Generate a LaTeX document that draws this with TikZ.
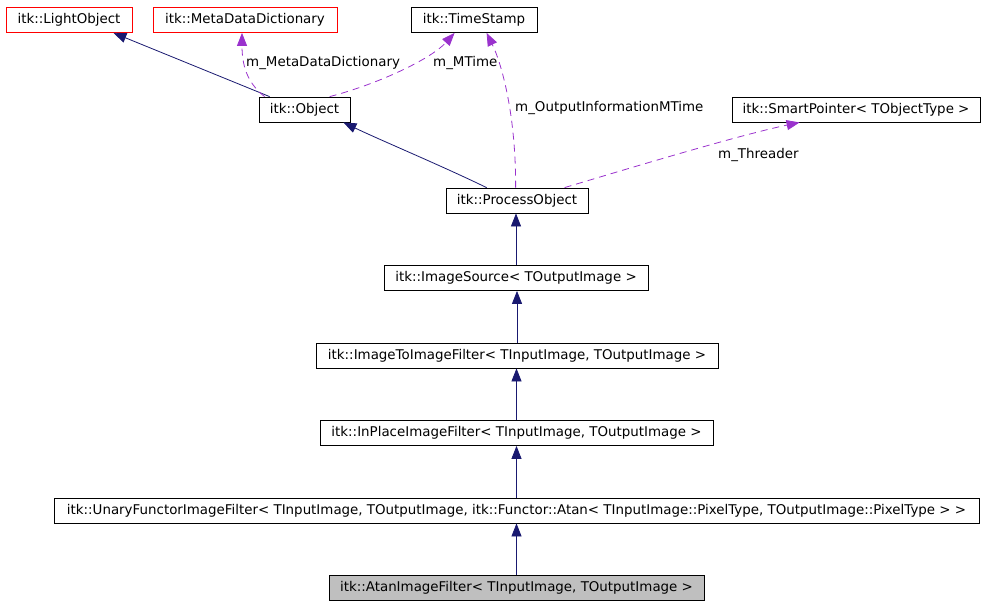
\documentclass[tikz,border=0pt]{standalone}
\usepackage{fontspec}
\setmainfont{DejaVu Sans}
\usetikzlibrary{arrows.meta}
\definecolor{inhblue}{HTML}{191970}
\definecolor{usepurple}{HTML}{9A32CD}
\begin{document}
\begin{tikzpicture}[
    x=1pt, y=-1pt,
    cls/.style={
        draw=black,
        line width=0.8pt,
        minimum height=25pt,
        inner sep=0pt,
        font=\fontsize{13.4}{16}\selectfont
    },
    extcls/.style={cls, draw=red},
    curcls/.style={cls, fill=black!25},
    inh/.style={draw=inhblue, line width=0.8pt, -{Triangle[length=13pt,width=10pt]}},
    usage/.style={draw=usepurple, line width=0.8pt, dash pattern=on 7pt off 5pt,
        -{Triangle[length=13pt,width=10pt]}},
    lbl/.style={anchor=west, inner sep=0pt, font=\fontsize{13.4}{16}\selectfont}
]
    \useasboundingbox (0,0) rectangle (987,605);

    % top row
    \node[extcls, minimum width=126pt] (light) at (69,20) {itk::LightObject};
    \node[extcls, minimum width=184pt] (meta) at (245,20) {itk::MetaDataDictionary};
    \node[cls, minimum width=126pt] (stamp) at (474,20) {itk::TimeStamp};

    \node[cls, minimum width=91pt] (obj) at (304.5,109.5) {itk::Object};
    \node[cls, minimum width=248pt] (smart) at (856,109.5) {itk::SmartPointer< TObjectType >};

    % hierarchy
    \node[cls, minimum width=142pt] (proc) at (517,200.5) {itk::ProcessObject};
    \node[cls, minimum width=264pt] (src) at (516,278) {itk::ImageSource< TOutputImage >};
    \node[cls, minimum width=402pt] (itoi) at (517,355.5)
        {itk::ImageToImageFilter< TInputImage, TOutputImage >};
    \node[cls, minimum width=393pt] (inplace) at (516.5,433)
        {itk::InPlaceImageFilter< TInputImage, TOutputImage >};
    \node[cls, minimum width=925pt] (unary) at (516.5,510.5)
        {itk::UnaryFunctorImageFilter< TInputImage, TOutputImage, itk::Functor::Atan< TInputImage::PixelType, TOutputImage::PixelType > >};
    \node[curcls, minimum width=375pt] (atan) at (516.5,587.5)
        {itk::AtanImageFilter< TInputImage, TOutputImage >};

    % inheritance
    \draw[inh] ([xshift=11pt]obj.north west) -- ([xshift=-19pt]light.south east);
    \draw[inh] ([xshift=41pt]proc.north west)
        .. controls (440,165) and (380,140) .. ([xshift=-7pt]obj.south east);
    \foreach \a/\b in {src/proc, itoi/src, inplace/itoi, unary/inplace, atan/unary}
        \draw[inh] (\a.north) -- (\a.north |- \b.south);

    % members
    \draw[usage] ([xshift=6pt]obj.north west)
        .. controls (250,85) and (242,70) .. ([xshift=-3pt]meta.south);
    \draw[usage] ([xshift=71pt]obj.north west)
        .. controls (375,85) and (430,60) .. ([xshift=44pt]stamp.south west);
    \draw[usage] ([xshift=70pt]proc.north west)
        .. controls (516,110) and (500,60) .. ([xshift=76pt]stamp.south west);
    \draw[usage] ([xshift=119pt]proc.north west)
        .. controls (640,165) and (740,135) .. ([xshift=68pt]smart.south west);

    \node[lbl] (lmeta) at (246,63) {m\_MetaDataDictionary};
    \node[lbl] (lmtime) at (433,63) {m\_MTime};
    \node[lbl] (lout) at (515,108) {m\_OutputInformationMTime};
    \node[lbl] (lthr) at (718,155) {m\_Threader};
\end{tikzpicture}
\end{document}
